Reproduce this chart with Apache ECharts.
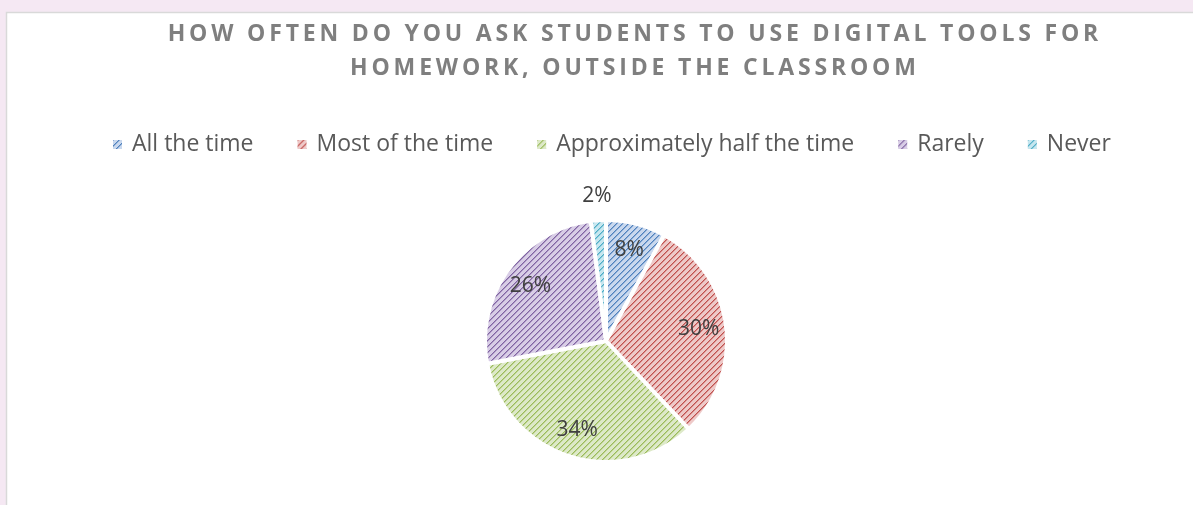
<!DOCTYPE html>
<html>
<head>
<meta charset="utf-8">
<title>Digital tools for homework</title>
<script src="https://cdn.jsdelivr.net/npm/echarts@6/dist/echarts.min.js"></script>
<style>
  html, body { margin: 0; padding: 0; background: #f5e8f3; }
  #chart { width: 1193px; height: 505px; }
</style>
</head>
<body>
<div id="chart"></div>
<script>
// Survey answers and their shares (percent)
const categories = ['All the time', 'Most of the time', 'Approximately half the time', 'Rarely', 'Never'];
const shares = [8, 30, 34, 26, 2];

// Slice colours: stripe colour and pale backing colour
const stripeColors = ['#4f81bd', '#c0504d', '#9bbb59', '#8064a2', '#4bacc6'];
const paleColors = ['#c9d8ee', '#eec9c8', '#dde9c8', '#d8cde6', '#c6e6ef'];

const titleLines = [
  'HOW OFTEN DO YOU ASK STUDENTS TO USE DIGITAL TOOLS FOR',
  'HOMEWORK, OUTSIDE THE CLASSROOM'
];

// Spread the title letters apart with thin spaces
function spaced(s) {
  return s.split('').join('\u2009');
}

// Diagonal dotted hatch used to fill each slice
function hatch(stripe, pale) {
  const n = 6;
  const c = document.createElement('canvas');
  c.width = n; c.height = n;
  const g = c.getContext('2d');
  g.fillStyle = pale;
  g.fillRect(0, 0, n, n);
  g.fillStyle = stripe;
  g.globalAlpha = 1;
  for (let i = 0; i < n; i++) {
    g.fillRect(i, n - 1 - i, 1, 1);
  }
  g.globalAlpha = 0.5;
  for (let i = 0; i < n; i++) {
    g.fillRect((i + 1) % n, n - 1 - i, 1, 1);
  }
  return { image: c, repeat: 'repeat' };
}

const patterns = stripeColors.map((c, i) => hatch(c, paleColors[i]));

const pieData = categories.map((name, i) => ({
  name: name,
  value: shares[i],
  itemStyle: { color: patterns[i] }
}));

const labelFont = { fontFamily: 'Open Sans', fontSize: 21, color: '#404040' };

const chart = echarts.init(document.getElementById('chart'), null, { renderer: 'canvas' });
chart.setOption({
  backgroundColor: '#f5e8f3',
  animation: false,
  graphic: [{
    type: 'rect',
    silent: true,
    z: -10,
    shape: { x: 6.5, y: 12.5, width: 1200, height: 500 },
    style: { fill: '#ffffff', stroke: '#d9d9d9', lineWidth: 1.5 }
  }],
  title: {
    text: titleLines.map(spaced).join('\n'),
    left: 628,
    top: 12,
    textAlign: 'center',
    textStyle: {
      fontFamily: 'Open Sans',
      fontWeight: 'bold',
      fontSize: 23,
      lineHeight: 34,
      color: '#7f7f7f'
    }
  },
  legend: {
    data: categories,
    left: 113,
    top: 133,
    padding: 0,
    itemWidth: 9,
    itemHeight: 9,
    itemGap: 44,
    icon: 'rect',
    selectedMode: false,
    itemStyle: { borderWidth: 0 },
    textStyle: {
      fontFamily: 'Open Sans',
      fontSize: 23,
      color: '#595959',
      padding: [0, 0, 0, 5]
    }
  },
  series: [
    {
      type: 'pie',
      center: [606, 341],
      radius: [0, 121],
      startAngle: 90,
      clockwise: true,
      silent: true,
      label: { show: false },
      labelLine: { show: false },
      itemStyle: { borderColor: '#ffffff', borderWidth: 4 },
      data: pieData
    },
    {
      // labels of the larger slices, set well out from the centre
      type: 'pie',
      center: [606, 341],
      radius: [60, 121],
      startAngle: 90,
      clockwise: true,
      silent: true,
      legendHoverLink: false,
      itemStyle: { color: 'rgba(0,0,0,0)' },
      label: Object.assign({ show: true, position: 'inside', formatter: '{c}%' }, labelFont),
      labelLine: { show: false },
      data: categories.map((name, i) => ({
        name: name,
        value: shares[i],
        label: { show: i !== 4 }
      }))
    },
    {
      // label for the thin slice, just beyond the rim
      type: 'pie',
      center: [606, 341],
      radius: [126, 158],
      startAngle: 90,
      clockwise: true,
      silent: true,
      legendHoverLink: false,
      itemStyle: { color: 'rgba(0,0,0,0)' },
      label: Object.assign({ show: true, position: 'inside', formatter: '{c}%' }, labelFont),
      labelLine: { show: false },
      data: categories.map((name, i) => ({
        name: name,
        value: shares[i],
        label: { show: i === 4 }
      }))
    }
  ]
});
</script>
</body>
</html>
